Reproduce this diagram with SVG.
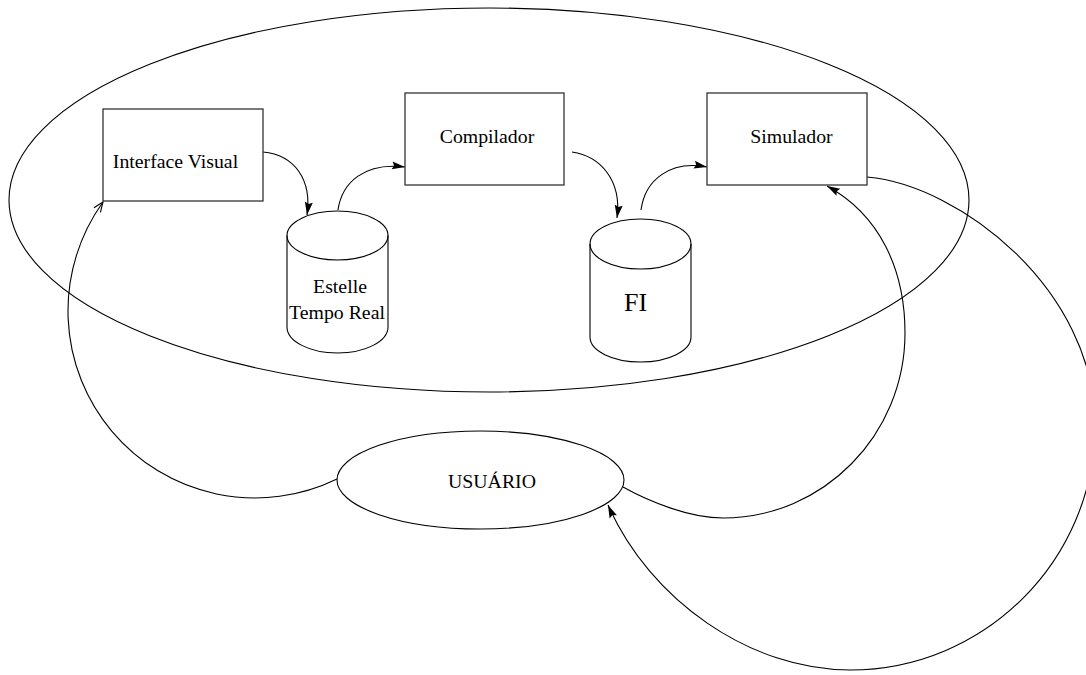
<svg xmlns="http://www.w3.org/2000/svg" width="1086" height="675" viewBox="0 0 1086 675">
  <style>
    .shape { fill: none; stroke: #000; stroke-width: 1.1; }
    .box { fill: #fff; stroke: #333; stroke-width: 1.3; }
    .wire { fill: none; stroke: #000; stroke-width: 1.1; }
    .lbl { font-family: "Liberation Serif", "Times New Roman", serif; font-size: 19.8px; fill: #000; text-anchor: middle; }
    .big { font-size: 26px; }
  </style>
  <defs>
    <marker id="solid" markerUnits="userSpaceOnUse" markerWidth="14" markerHeight="10" refX="13" refY="4" orient="auto" overflow="visible">
      <path d="M0,0 L13,4 L0,8 L2,4 z" fill="#000"/>
    </marker>
    <marker id="open" markerUnits="userSpaceOnUse" markerWidth="12" markerHeight="10" refX="10" refY="4" orient="auto" overflow="visible">
      <path d="M0,0 L10,4 L0,8" fill="none" stroke="#000" stroke-width="1.1"/>
    </marker>
  </defs>

  <rect width="1086" height="675" fill="#fff"/>

  <!-- system boundary -->
  <g id="system">
    <ellipse class="shape" cx="489" cy="200" rx="480" ry="192"/>
  </g>

  <!-- connectors -->
  <g id="connectors">
    <path class="wire" d="M263,152 C295,155 312,180 307,215" marker-end="url(#solid)"/>
    <path class="wire" d="M338,210 C342,182 365,162 405,167" marker-end="url(#solid)"/>
    <path class="wire" d="M572,152 C600,156 622,180 617,218" marker-end="url(#solid)"/>
    <path class="wire" d="M641,210 C645,180 670,160 707,167" marker-end="url(#solid)"/>
    <path class="wire" d="M867,177 C960,185 1095,290 1095,425 C1095,560 985,670 850,670 C750,670 650,600 608,505" marker-end="url(#solid)"/>
    <path class="wire" d="M623,487 C650,502 690,518 723,518 C823,518 905,435 905,333 C905,270 880,215 827,186" marker-end="url(#solid)"/>
    <path class="wire" d="M337,479 A187,187 0 0 1 103,202" marker-end="url(#open)"/>
  </g>

  <g id="interface-visual">
    <rect class="box" x="103" y="109" width="160" height="92"/>
    <text class="lbl" x="175.5" y="168">Interface Visual</text>
  </g>

  <g id="compilador">
    <rect class="box" x="405" y="93" width="159" height="92"/>
    <text class="lbl" x="487" y="143">Compilador</text>
  </g>

  <g id="simulador">
    <rect class="box" x="707" y="93" width="160" height="92"/>
    <text class="lbl" x="791.5" y="143">Simulador</text>
  </g>

  <g id="estelle">
    <ellipse class="shape" cx="337.5" cy="235.5" rx="50.5" ry="24.5"/>
    <path class="shape" d="M287,235.5 L287,327 A50.5,26 0 0 0 388,327 L388,235.5"/>
    <text class="lbl" x="340" y="293">Estelle</text>
    <text class="lbl" x="337" y="319">Tempo Real</text>
  </g>

  <g id="fi">
    <ellipse class="shape" cx="640.5" cy="244" rx="50.5" ry="25"/>
    <path class="shape" d="M590,244 L590,337 A50.5,25 0 0 0 691,337 L691,244"/>
    <text class="lbl big" x="635.5" y="311">FI</text>
  </g>

  <g id="usuario">
    <ellipse class="shape" cx="480.5" cy="480" rx="143.5" ry="49"/>
    <text class="lbl" x="492" y="488">USUÁRIO</text>
  </g>
</svg>
